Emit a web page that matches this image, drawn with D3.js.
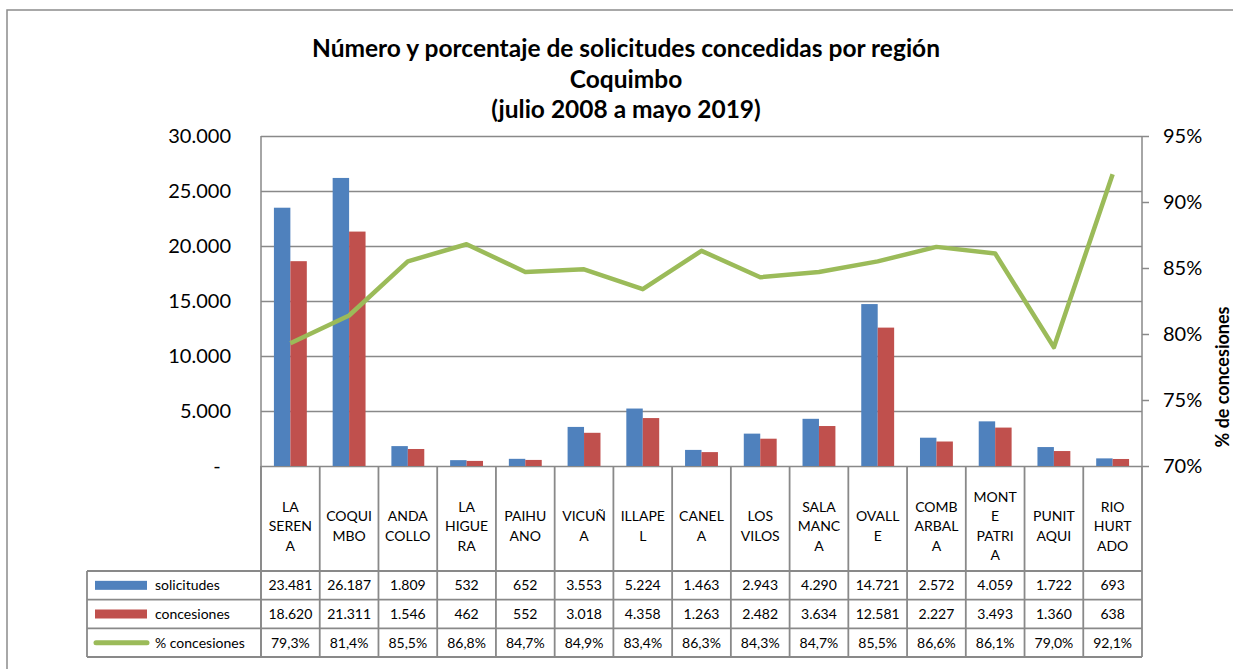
<!DOCTYPE html>
<html>
<head>
<meta charset="utf-8">
<script src="https://cdn.jsdelivr.net/npm/d3@7"></script>
<style>
  body { margin: 0; background: #fff; }
  svg { display: block; font-family: Lato, "Open Sans", sans-serif; }
</style>
</head>
<body>
<div id="chart"></div>
<script>
// categories (comunas) and their wrapped labels as shown in the table header
const comunas = ["LA SERENA", "COQUIMBO", "ANDACOLLO", "LA HIGUERA", "PAIHUANO", "VICUÑA", "ILLAPEL",
  "CANELA", "LOS VILOS", "SALAMANCA", "OVALLE", "COMBARBALA", "MONTE PATRIA", "PUNITAQUI", "RIO HURTADO"];
const labelLines = [["LA", "SEREN", "A"], ["COQUI", "MBO"], ["ANDA", "COLLO"], ["LA", "HIGUE", "RA"],
  ["PAIHU", "ANO"], ["VICUÑ", "A"], ["ILLAPE", "L"], ["CANEL", "A"], ["LOS", "VILOS"],
  ["SALA", "MANC", "A"], ["OVALL", "E"], ["COMB", "ARBAL", "A"], ["MONT", "E", "PATRI", "A"],
  ["PUNIT", "AQUI"], ["RIO", "HURT", "ADO"]];

const solicitudes = [23481, 26187, 1809, 532, 652, 3553, 5224, 1463, 2943, 4290, 14721, 2572, 4059, 1722, 693];
const concesiones = [18620, 21311, 1546, 462, 552, 3018, 4358, 1263, 2482, 3634, 12581, 2227, 3493, 1360, 638];
const pctConcesiones = [79.3, 81.4, 85.5, 86.8, 84.7, 84.9, 83.4, 86.3, 84.3, 84.7, 85.5, 86.6, 86.1, 79.0, 92.1];

const leftTicks = [0, 5000, 10000, 15000, 20000, 25000, 30000];
const rightTicks = [70, 75, 80, 85, 90, 95];
const seriesNames = ["solicitudes", "concesiones", "% concesiones"];
const titleLines = ["Número y porcentaje de solicitudes concedidas por región", "Coquimbo", "(julio 2008 a mayo 2019)"];

const colors = { sol: "#4F81BD", con: "#C0504D", pct: "#9BBB59", grid: "#898989" };

const width = 1233, height = 669;
const plot = { left: 261, right: 1142, top: 136, bottom: 466 };
const tableBottom = 657, tableTop = 571, legendLeft = 87;

const es = d3.formatLocale({ decimal: ",", thousands: ".", grouping: [3], currency: ["$", ""] });
const fmtInt = es.format(",d");
const fmtPct = d => es.format(".1f")(d) + "%";

const svg = d3.select("#chart").append("svg")
  .attr("width", width)
  .attr("height", height);

// outer chart frame (runs off the right/bottom edge like the source)
svg.append("rect")
  .attr("x", 7).attr("y", 10)
  .attr("width", 1250).attr("height", 700)
  .attr("fill", "none")
  .attr("stroke", "#8c8c8c")
  .attr("stroke-width", 1.5);

// title
svg.append("g").selectAll("text")
  .data(titleLines)
  .enter().append("text")
  .attr("x", 626)
  .attr("y", (d, i) => 57 + i * 30.5)
  .attr("text-anchor", "middle")
  .style("font-weight", "bold")
  .style("font-size", "24.5px")
  .attr("fill", "#000")
  .text(d => d);

// scales
const x = d3.scaleBand().domain(comunas).range([plot.left, plot.right]).padding(0);
const y = d3.scaleLinear().domain([0, 30000]).range([plot.bottom, plot.top]);
const yR = d3.scaleLinear().domain([70, 95]).range([plot.bottom, plot.top]);
const barW = x.bandwidth() * 0.28;

// gridlines
svg.append("g")
  .attr("transform", "translate(" + plot.left + ",0)")
  .call(d3.axisLeft(y).tickValues(leftTicks).tickSize(-(plot.right - plot.left)).tickFormat(""))
  .call(g => g.select(".domain").remove())
  .selectAll(".tick line")
  .attr("stroke", colors.grid)
  .attr("stroke-width", 1.5);

// left axis labels
svg.append("g")
  .attr("transform", "translate(" + plot.left + ",0)")
  .call(d3.axisLeft(y).tickValues(leftTicks).tickSize(0).tickPadding(30)
    .tickFormat(d => d === 0 ? "-\u00a0\u00a0" : fmtInt(d)))
  .call(g => g.select(".domain").remove())
  .selectAll("text")
  .style("font-size", "20px")
  .style("font-family", "Lato, sans-serif")
  .attr("fill", "#000");

// bars
const bars = svg.append("g").selectAll(".bar")
  .data(comunas)
  .enter().append("g")
  .attr("class", "bar")
  .attr("transform", d => "translate(" + (x(d) + x.bandwidth() / 2) + ",0)");

bars.append("rect")
  .attr("x", -barW)
  .attr("y", (d, i) => y(solicitudes[i]))
  .attr("width", barW)
  .attr("height", (d, i) => y(0) - y(solicitudes[i]))
  .attr("fill", colors.sol);

bars.append("rect")
  .attr("x", 0)
  .attr("y", (d, i) => y(concesiones[i]))
  .attr("width", barW)
  .attr("height", (d, i) => y(0) - y(concesiones[i]))
  .attr("fill", colors.con);

// right axis
const rAxis = svg.append("g")
  .attr("transform", "translate(" + plot.right + ",0)")
  .call(d3.axisRight(yR).tickValues(rightTicks).tickSize(7).tickPadding(14).tickFormat(d => d + "%"));
rAxis.select(".domain").attr("stroke", colors.grid).attr("stroke-width", 1.5)
  .attr("d", "M0," + plot.top + "V" + plot.bottom);
rAxis.selectAll(".tick line").attr("stroke", colors.grid).attr("stroke-width", 1.5);
rAxis.selectAll("text")
  .style("font-size", "20px")
  .style("font-family", "Lato, sans-serif")
  .attr("fill", "#000");

svg.append("text")
  .attr("transform", "translate(1229," + ((plot.top + plot.bottom) / 2 + 76) + ") rotate(-90)")
  .attr("text-anchor", "middle")
  .style("font-weight", "bold")
  .style("font-size", "18px")
  .attr("fill", "#000")
  .text("% de concesiones");

// % line
const line = d3.line()
  .x((d, i) => x(comunas[i]) + x.bandwidth() / 2)
  .y(d => yR(d));

svg.append("path")
  .datum(pctConcesiones)
  .attr("d", line)
  .attr("fill", "none")
  .attr("stroke", colors.pct)
  .attr("stroke-width", 4.5)
  .attr("stroke-linejoin", "round");

// left axis line (continues down into the table)
svg.append("line")
  .attr("x1", plot.left).attr("x2", plot.left)
  .attr("y1", plot.top).attr("y2", tableBottom)
  .attr("stroke", colors.grid).attr("stroke-width", 1.5);

// data table
const table = svg.append("g").attr("class", "table");
const rowY = d3.scaleBand().domain(seriesNames).range([tableTop, tableBottom]);

// vertical separators
const colEdges = comunas.map(c => x(c)).concat([plot.right]);
table.selectAll(".vline")
  .data(colEdges)
  .enter().append("line")
  .attr("x1", d => d).attr("x2", d => d)
  .attr("y1", plot.bottom).attr("y2", tableBottom)
  .attr("stroke", colors.grid).attr("stroke-width", 1.8);

table.append("line")
  .attr("x1", legendLeft).attr("x2", legendLeft)
  .attr("y1", tableTop).attr("y2", tableBottom)
  .attr("stroke", colors.grid).attr("stroke-width", 1.8);

// horizontal separators
table.selectAll(".hline")
  .data([tableTop, tableTop + rowY.bandwidth(), tableTop + 2 * rowY.bandwidth(), tableBottom])
  .enter().append("line")
  .attr("x1", legendLeft).attr("x2", plot.right)
  .attr("y1", d => d).attr("y2", d => d)
  .attr("stroke", colors.grid).attr("stroke-width", 1.8);

// header labels
const headerMid = 526, lh = 19.5;
table.selectAll(".hdr")
  .data(labelLines)
  .enter().append("text")
  .attr("text-anchor", "middle")
  .style("font-size", "14px")
  .attr("fill", "#000")
  .each(function(lines, i) {
    const cx = x(comunas[i]) + x.bandwidth() / 2;
    const t = d3.select(this);
    lines.forEach((s, k) => {
      t.append("tspan")
        .attr("x", cx)
        .attr("y", headerMid - (lines.length - 1) * lh / 2 + k * lh + 5)
        .text(s);
    });
  });

// row legend
const rowData = [solicitudes.map(fmtInt), concesiones.map(fmtInt), pctConcesiones.map(fmtPct)];
const rows = table.selectAll(".row")
  .data(seriesNames)
  .enter().append("g")
  .attr("transform", d => "translate(0," + (rowY(d) + rowY.bandwidth() / 2) + ")");

rows.each(function(name, r) {
  const g = d3.select(this);
  if (r < 2) {
    g.append("rect")
      .attr("x", 95).attr("y", -4.5)
      .attr("width", 52).attr("height", 9)
      .attr("fill", r === 0 ? colors.sol : colors.con);
  } else {
    g.append("line")
      .attr("x1", 96).attr("x2", 147)
      .attr("y1", 0).attr("y2", 0)
      .attr("stroke", colors.pct)
      .attr("stroke-width", 5)
      .attr("stroke-linecap", "round");
  }
  g.append("text")
    .attr("x", 155).attr("y", 5)
    .style("font-size", "14px")
    .attr("fill", "#000")
    .text(name);
  g.selectAll(".val")
    .data(rowData[r])
    .enter().append("text")
    .attr("x", (d, i) => x(comunas[i]) + x.bandwidth() / 2)
    .attr("y", 5)
    .attr("text-anchor", "middle")
    .style("font-size", "14px")
    .attr("fill", "#000")
    .text(d => d);
});
</script>
</body>
</html>
